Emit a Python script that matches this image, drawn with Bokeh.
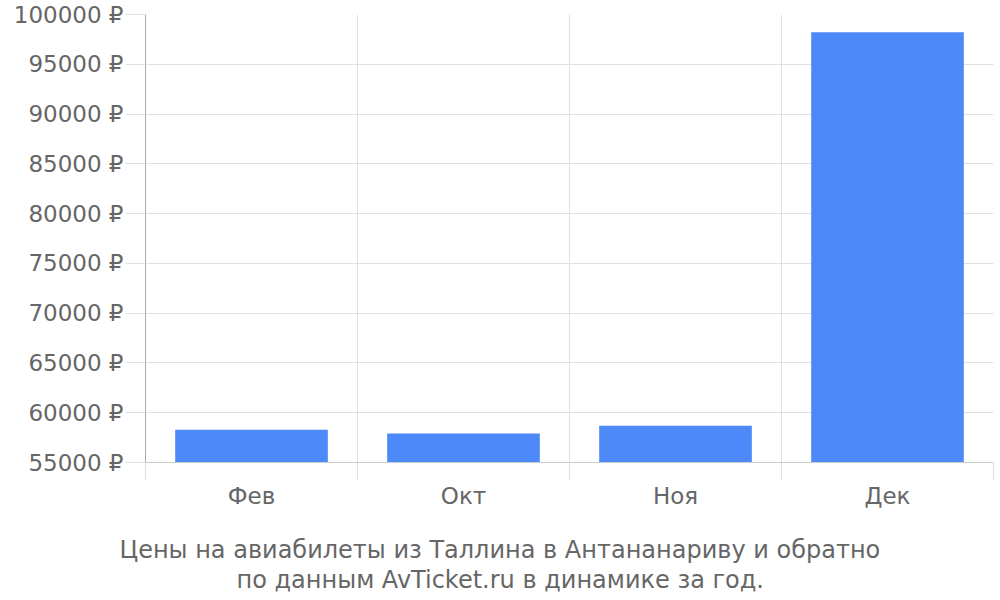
from bokeh.plotting import figure
from bokeh.models import FixedTicker, Range1d, Title, ColumnDataSource
from bokeh.embed import file_html
from bokeh.resources import INLINE

# Monthly round-trip fares, rubles
months = ["Фев", "Окт", "Ноя", "Дек"]
prices = [58280, 57910, 58690, 98220]
y_ticks = [55000, 60000, 65000, 70000, 75000, 80000, 85000, 90000, 95000, 100000]
caption_lines = [
    "Цены на авиабилеты из Таллина в Антананариву и обратно",
    "по данным AvTicket.ru в динамике за год.",
]

FONT = "DejaVu Sans"
TEXT = "#666666"
GRID = "#e0e0e0"
BAR = "#4d89f9"

centers = [i + 0.5 for i in range(len(months))]
source = ColumnDataSource(dict(x=centers, top=prices, month=months))

p = figure(
    width=1000, height=600,
    x_range=Range1d(0, len(months)),
    y_range=Range1d(y_ticks[0], y_ticks[-1]),
    output_backend="svg", toolbar_location=None,
    min_border_left=145, min_border_right=7,
    min_border_top=14, min_border_bottom=138,
)
p.outline_line_color = None

p.vbar(x="x", top="top", bottom=y_ticks[0], width=0.72, source=source,
       fill_color=BAR, line_color=None)

# y axis
p.yaxis.ticker = FixedTicker(ticks=y_ticks)
p.yaxis.major_label_overrides = {t: f"{t} ₽" for t in y_ticks}
p.yaxis.major_label_text_font = FONT
p.yaxis.major_label_text_font_size = "23px"
p.yaxis.major_label_text_color = TEXT
p.yaxis.major_label_standoff = 2
p.yaxis.major_tick_out = 20
p.yaxis.major_tick_in = 0
p.yaxis.major_tick_line_color = GRID
p.yaxis.minor_tick_line_color = None
p.yaxis.axis_line_color = "#aaaaaa"
p.ygrid.ticker = FixedTicker(ticks=y_ticks)
p.ygrid.grid_line_color = GRID

# x axis: labels at category centers, ticks/grid at category boundaries
bounds = list(range(len(months) + 1))
p.xaxis.ticker = FixedTicker(ticks=centers, minor_ticks=bounds)
p.xaxis.major_label_overrides = {c: m for c, m in zip(centers, months)}
p.xaxis.major_label_text_font = FONT
p.xaxis.major_label_text_font_size = "23px"
p.xaxis.major_label_text_color = TEXT
p.xaxis.major_label_standoff = 2
p.xaxis.major_tick_line_color = None
p.xaxis.minor_tick_out = 18
p.xaxis.minor_tick_in = 0
p.xaxis.minor_tick_line_color = GRID
p.xaxis.axis_line_color = "#cccccc"
p.xgrid.ticker = FixedTicker(ticks=bounds)
p.xgrid.grid_line_color = GRID

# gap between the month labels and the caption
p.add_layout(Title(text=" ", text_font_size="1px", standoff=19), "below")

# two-line caption under the axis, each line centred on the page
caption_offsets = [-26, 91]
for line, off in zip(caption_lines, caption_offsets):
    p.add_layout(Title(
        text=line, align="left", offset=off,
        text_font=FONT, text_font_size="24px", text_color=TEXT,
        text_font_style="normal", standoff=0,
    ), "below")

open("out.html", "w").write(file_html(p, INLINE))
